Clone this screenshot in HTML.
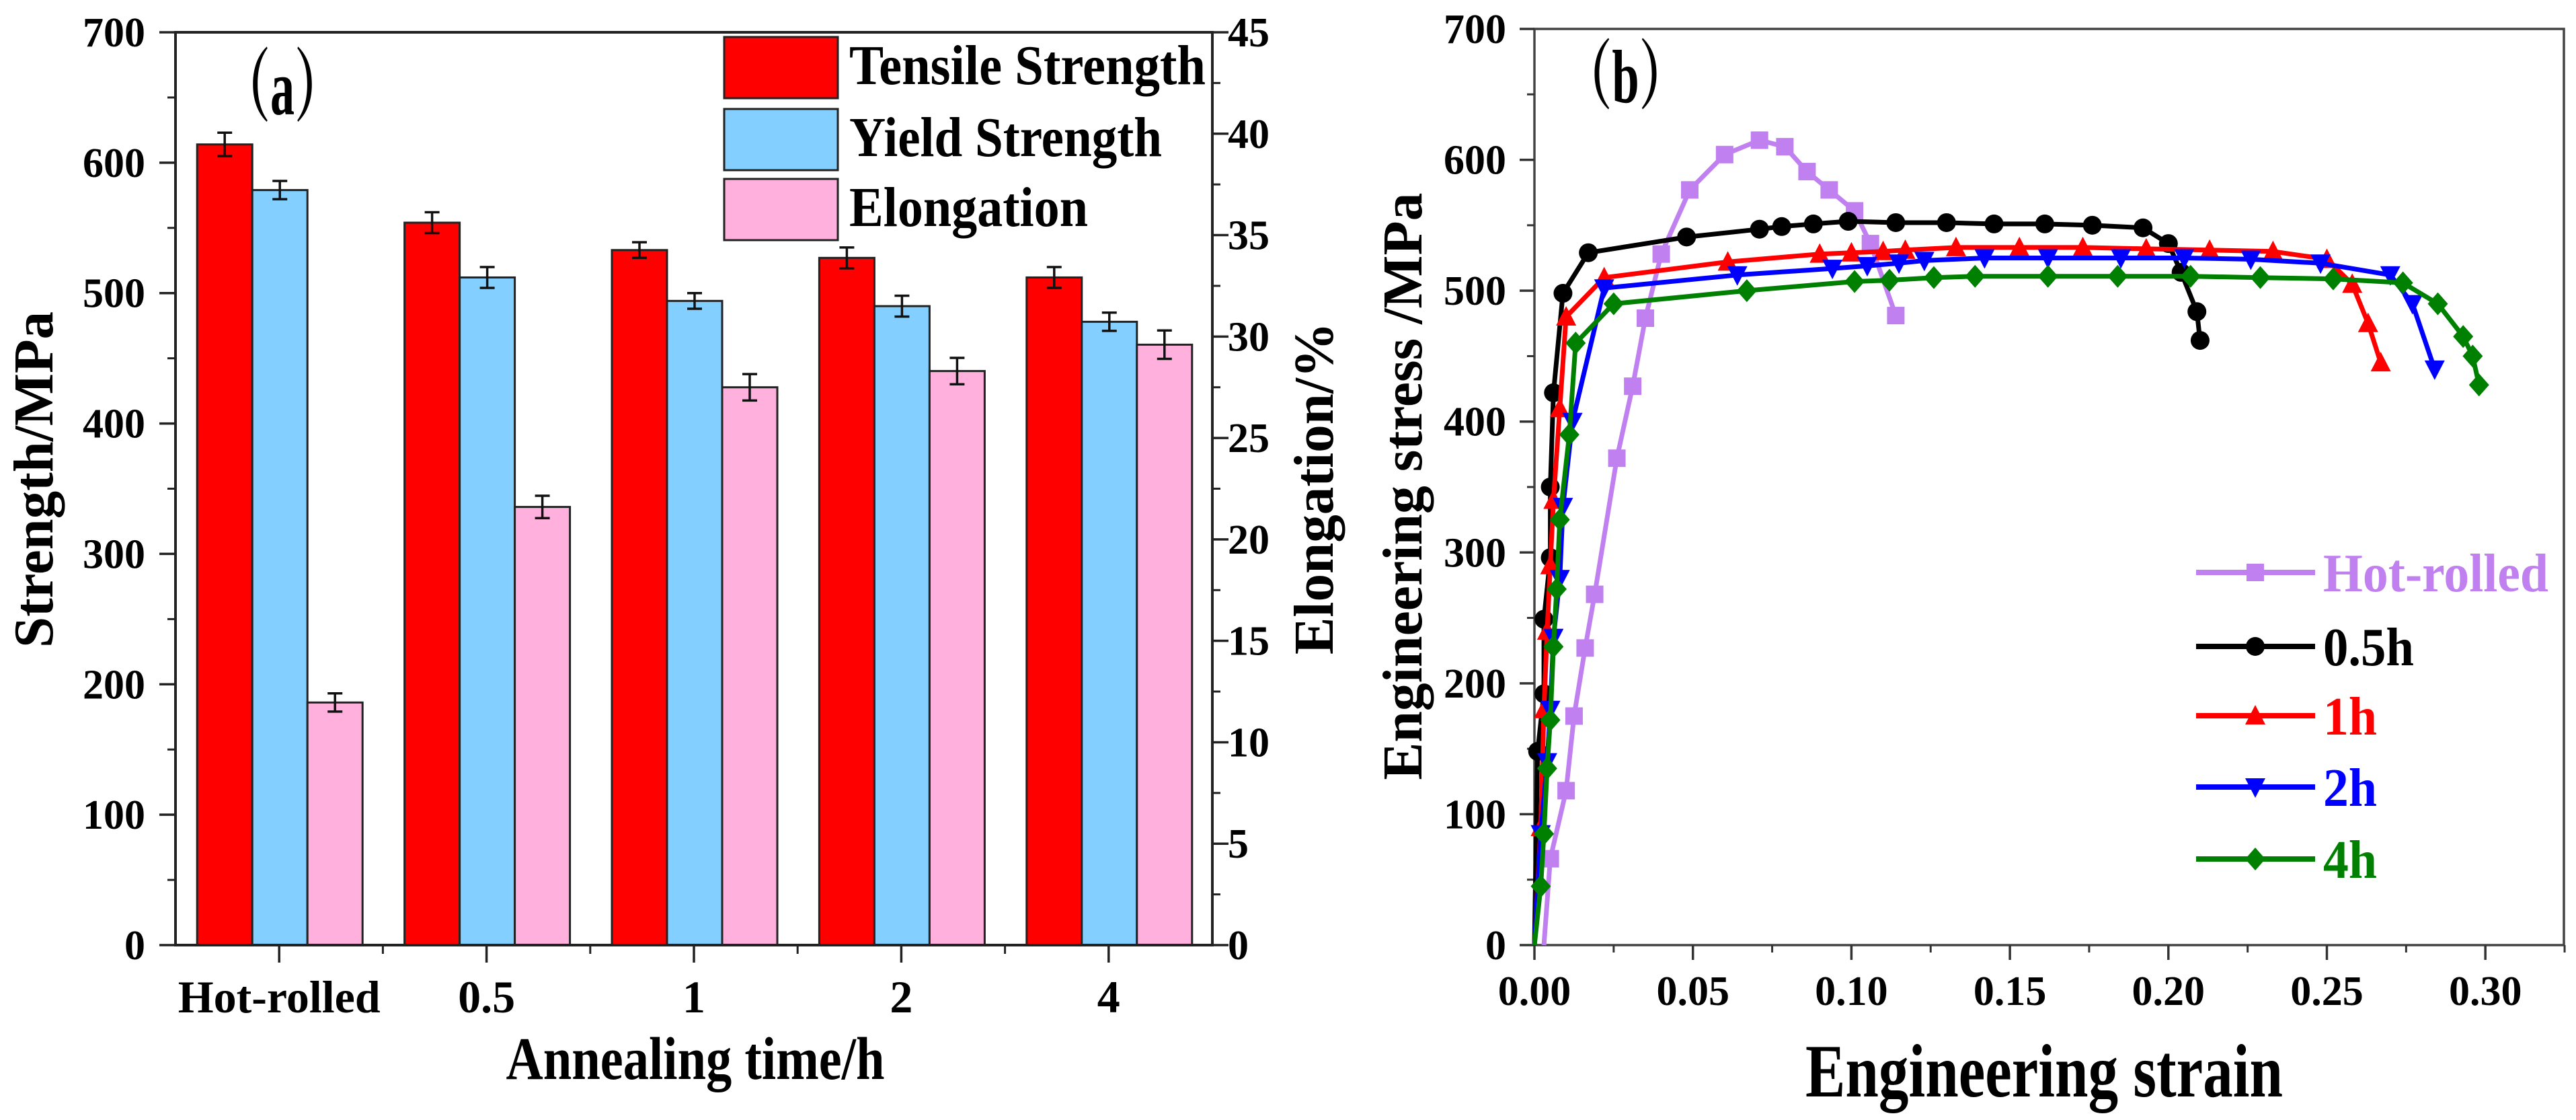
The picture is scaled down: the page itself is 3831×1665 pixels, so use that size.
<!DOCTYPE html>
<html><head><meta charset="utf-8"><style>
html,body{margin:0;padding:0;background:#fff;}
svg{display:block;font-family:"Liberation Serif","Noto Serif CJK SC",serif;}
</style></head><body>
<svg id="fig" width="3831" height="1665" viewBox="0 0 3831 1665">
<g id="pa"></g>
<g id="pb"></g>
</svg>
<script>
// ---------- Panel (a) data ----------
const categories = ["Hot-rolled","0.5","1","2","4"];
const tensile = [614,554,533,527,512];
const tensileErr = [9,8,6,8,8];
const yieldS = [579,512,494,490,478];
const yieldErr = [7,8,6,8,7];
const elong = [11.96,21.6,27.5,28.3,29.6];
const elongErr = [0.45,0.55,0.65,0.65,0.7];
const leftTicks = [0,100,200,300,400,500,600,700];
const rightTicks = [0,5,10,15,20,25,30,35,40,45];
// ---------- Panel (b) data ----------
const hotStrain = [0.003,0.005,0.01,0.0125,0.016,0.019,0.026,0.031,0.035,0.04,0.049,0.06,0.071,0.079,0.086,0.093,0.101,0.106,0.114];
const hotStress = [0,66,118,175,227,268,372,427,479,528,577,604,615,610,591,577,561,536,481];
const h05Strain = [0.0,0.001,0.003,0.003,0.005,0.005,0.006,0.009,0.017,0.048,0.071,0.078,0.088,0.099,0.114,0.13,0.145,0.161,0.176,0.192,0.2,0.204,0.209,0.21];
const h05Stress = [0,148,192,249,296,350,422,498,529,541,547,549,551,553,552,552,551,551,550,548,536,514,484,462];
const h1Strain = [0.0,0.002,0.003,0.004,0.005,0.006,0.008,0.01,0.022,0.061,0.09,0.1,0.11,0.117,0.133,0.153,0.173,0.193,0.213,0.233,0.25,0.258,0.263,0.267];
const h1Stress = [0,90,180,240,290,340,410,480,510,522,528,529,530,531,533,533,533,532,531,530,524,505,475,445];
const h2Strain = [0.0,0.002,0.004,0.005,0.006,0.008,0.009,0.012,0.022,0.064,0.094,0.105,0.115,0.123,0.142,0.162,0.185,0.205,0.226,0.248,0.27,0.277,0.284];
const h2Stress = [0,85,140,180,235,280,335,400,502,512,517,519,521,523,525,525,525,525,524,521,512,490,440];
const h4Strain = [0.0,0.002,0.003,0.004,0.005,0.006,0.007,0.008,0.011,0.013,0.025,0.067,0.101,0.112,0.126,0.139,0.162,0.184,0.207,0.229,0.252,0.274,0.285,0.293,0.296,0.298];
const h4Stress = [0,45,85,135,172,228,272,325,390,460,490,500,507,508,510,511,511,511,511,510,509,506,490,465,450,428];
const bXTicks = [0,0.05,0.10,0.15,0.20,0.25,0.30];
const bXLabels = ["0.00","0.05","0.10","0.15","0.20","0.25","0.30"];
const bYTicks = [0,100,200,300,400,500,600,700];

const NS="http://www.w3.org/2000/svg";
function mk(parent,tag,attrs,text){const e=document.createElementNS(NS,tag);for(const k in attrs)e.setAttribute(k,attrs[k]);if(text!==undefined)e.textContent=text;parent.appendChild(e);return e;}

// ===== Panel a =====
const pa=document.getElementById('pa');
const aL=261,aR=1803,aT=48,aB=1405;
const ay=v=>aB-(v/700)*(aB-aT);
const ayR=v=>aB-(v/45)*(aB-aT);
const band=(aR-aL)/categories.length;
const ax=i=>aL+band*(i+0.5);
const bw=82;
function bar(x,yTop,fill,name){
  const r=mk(pa,'rect',{x:x,y:yTop,width:bw,height:aB-yTop,fill:fill,stroke:'#222','stroke-width':3});
  
  
}
function err(xc,yHi,yLo,name){
  const g=mk(pa,'g',{stroke:'#111','stroke-width':3.5});
  
  
  mk(g,'line',{x1:xc,x2:xc,y1:yHi,y2:yLo});
  mk(g,'line',{x1:xc-11,x2:xc+11,y1:yHi,y2:yHi});
  mk(g,'line',{x1:xc-11,x2:xc+11,y1:yLo,y2:yLo});
}
categories.forEach((c,i)=>{
  const cx=ax(i);
  bar(cx-122,ay(tensile[i]),'#ff0000','bar-tensile-'+i);
  bar(cx-40,ay(yieldS[i]),'#83cfff','bar-yield-'+i);
  bar(cx+42,ayR(elong[i]),'#ffb0dc','bar-elongation-'+i);
  err(cx-81,ay(tensile[i]+tensileErr[i]),ay(tensile[i]-tensileErr[i]),'error-tensile-'+i);
  err(cx+1,ay(yieldS[i]+yieldErr[i]),ay(yieldS[i]-yieldErr[i]),'error-yield-'+i);
  err(cx+83,ayR(elong[i]+elongErr[i]),ayR(elong[i]-elongErr[i]),'error-elongation-'+i);
  const t=mk(pa,'text',{x:cx,y:1505,'text-anchor':'middle','font-size':68,'font-weight':'bold'},c);
  
  
  mk(pa,'line',{x1:cx,x2:cx,y1:aB,y2:aB+26,stroke:'#222','stroke-width':3.5});
  if(i<categories.length-1) mk(pa,'line',{x1:cx+band/2,x2:cx+band/2,y1:aB,y2:aB+13,stroke:'#222','stroke-width':3});
});
const fa=mk(pa,'rect',{x:aL,y:aT,width:aR-aL,height:aB-aT,fill:'none',stroke:'#222','stroke-width':4});


leftTicks.forEach((v,i)=>{
  mk(pa,'line',{x1:aL-24,x2:aL,y1:ay(v),y2:ay(v),stroke:'#222','stroke-width':3.5});
  if(i<leftTicks.length-1) mk(pa,'line',{x1:aL-12,x2:aL,y1:ay(v+50),y2:ay(v+50),stroke:'#222','stroke-width':3});
  const t=mk(pa,'text',{x:216,y:ay(v)+21,'text-anchor':'end','font-size':62,'font-weight':'bold'},String(v));
  
  
});
rightTicks.forEach((v,i)=>{
  mk(pa,'line',{x1:aR,x2:aR+24,y1:ayR(v),y2:ayR(v),stroke:'#222','stroke-width':3.5});
  if(i<rightTicks.length-1) mk(pa,'line',{x1:aR,x2:aR+12,y1:ayR(v+2.5),y2:ayR(v+2.5),stroke:'#222','stroke-width':3});
  const t=mk(pa,'text',{x:1826,y:ayR(v)+21,'text-anchor':'start','font-size':62,'font-weight':'bold'},String(v));
  
  
});
let t;
t=mk(pa,'text',{x:0,y:0,transform:'translate(78,713) rotate(-90)','text-anchor':'middle','font-size':84,'font-weight':'bold',textLength:500,lengthAdjust:'spacingAndGlyphs'},'Strength/MPa');


t=mk(pa,'text',{x:0,y:0,transform:'translate(1982,726) rotate(-90)','text-anchor':'middle','font-size':84,'font-weight':'bold',textLength:494,lengthAdjust:'spacingAndGlyphs'},'Elongation/%');


t=mk(pa,'text',{x:1034,y:1604,'text-anchor':'middle','font-size':90,'font-weight':'bold',textLength:563,lengthAdjust:'spacingAndGlyphs'},'Annealing time/h');


t=mk(pa,'text',{x:330,y:170,'font-size':118,'font-weight':'bold',textLength:180,lengthAdjust:'spacingAndGlyphs'},'（a）');


const legA=[['Tensile Strength','#ff0000',55,530],['Yield Strength','#83cfff',162,465],['Elongation','#ffb0dc',266,355]];
legA.forEach(([lab,col,y,w])=>{
  const g=mk(pa,'g',{});
  
  
  mk(g,'rect',{x:1077,y:y,width:169,height:91,fill:col,stroke:'#222','stroke-width':3});
  mk(g,'text',{x:1263,y:y+70,'font-size':84,'font-weight':'bold',textLength:w,lengthAdjust:'spacingAndGlyphs'},lab);
});

// ===== Panel b =====
const pb=document.getElementById('pb');
const bL=2282,bR=3813,bT=43,bB=1405;
const bx=v=>bL+v*4714;
const by=v=>bB-(v/700)*(bB-bT);
mk(pb,'rect',{x:bL,y:bT,width:bR-bL,height:bB-bT,fill:'none',stroke:'#444','stroke-width':3.5});
bYTicks.forEach((v,i)=>{
  mk(pb,'line',{x1:bL-22,x2:bL,y1:by(v),y2:by(v),stroke:'#333','stroke-width':3.5});
  if(i<bYTicks.length-1) mk(pb,'line',{x1:bL-11,x2:bL,y1:by(v+50),y2:by(v+50),stroke:'#333','stroke-width':3});
  const t=mk(pb,'text',{x:2240,y:by(v)+21,'text-anchor':'end','font-size':62,'font-weight':'bold'},String(v));
  
  
});
bXTicks.forEach((v,i)=>{
  mk(pb,'line',{x1:bx(v),x2:bx(v),y1:bB,y2:bB+22,stroke:'#333','stroke-width':3.5});
  mk(pb,'line',{x1:bx(v+0.025),x2:bx(v+0.025),y1:bB,y2:bB+11,stroke:'#333','stroke-width':3});
  const t=mk(pb,'text',{x:bx(v),y:1494,'text-anchor':'middle','font-size':62,'font-weight':'bold'},bXLabels[i]);
  
  
});
t=mk(pb,'text',{x:3040,y:1630,'text-anchor':'middle','font-size':112,'font-weight':'bold',textLength:710,lengthAdjust:'spacingAndGlyphs'},'Engineering strain');


t=mk(pb,'text',{x:0,y:0,transform:'translate(2114,723) rotate(-90)','text-anchor':'middle','font-size':84,'font-weight':'bold',textLength:873,lengthAdjust:'spacingAndGlyphs'},'Engineering stress /MPa');


t=mk(pb,'text',{x:2325,y:152,'font-size':112,'font-weight':'bold',textLength:185,lengthAdjust:'spacingAndGlyphs'},'（b）');



function marker(g,type,x,y,col){
  const s=13;
  if(type==='square') mk(g,'rect',{x:x-s,y:y-s,width:2*s,height:2*s,fill:col});
  else if(type==='circle') mk(g,'circle',{cx:x,cy:y,r:s+1,fill:col});
  else if(type==='up') mk(g,'polygon',{points:`${x},${y-s-3} ${x-s-2},${y+s} ${x+s+2},${y+s}`,fill:col});
  else if(type==='down') mk(g,'polygon',{points:`${x},${y+s+3} ${x-s-2},${y-s} ${x+s+2},${y-s}`,fill:col});
  else mk(g,'polygon',{points:`${x},${y-s-4} ${x+s+2},${y} ${x},${y+s+4} ${x-s-2},${y}`,fill:col});
}
const seriesB=[
  ['hot-rolled',hotStrain,hotStress,'#c080f0','square'],
  ['0.5h',h05Strain,h05Stress,'#000000','circle'],
  ['1h',h1Strain,h1Stress,'#ff0000','up'],
  ['2h',h2Strain,h2Stress,'#0000ff','down'],
  ['4h',h4Strain,h4Stress,'#008000','diamond']
];
seriesB.forEach(([nm,xs,ys,col,mt])=>{
  const g=mk(pb,'g',{});
  
  
  const pts=xs.map((v,i)=>bx(v).toFixed(1)+','+by(ys[i]).toFixed(1)).join(' ');
  mk(g,'polyline',{points:pts,fill:'none',stroke:col,'stroke-width':7,'stroke-linejoin':'round'});
  xs.forEach((v,i)=>{ if(i>0) marker(g,mt,bx(v),by(ys[i]),col); });
});
const legB=[['Hot-rolled','#c080f0','square',851,335],['0.5h','#000000','circle',961,135],['1h','#ff0000','up',1064,80],['2h','#0000ff','down',1170,80],['4h','#008000','diamond',1277,80]];
legB.forEach(([lab,col,mt,y,w])=>{
  const g=mk(pb,'g',{});
  
  
  mk(g,'line',{x1:3266,x2:3443,y1:y,y2:y,stroke:col,'stroke-width':8});
  marker(g,mt,3354,y,col);
  mk(g,'text',{x:3455,y:y+28,'font-size':80,'font-weight':'bold',fill:col,textLength:w,lengthAdjust:'spacingAndGlyphs'},lab);
});
</script>
</body></html>
